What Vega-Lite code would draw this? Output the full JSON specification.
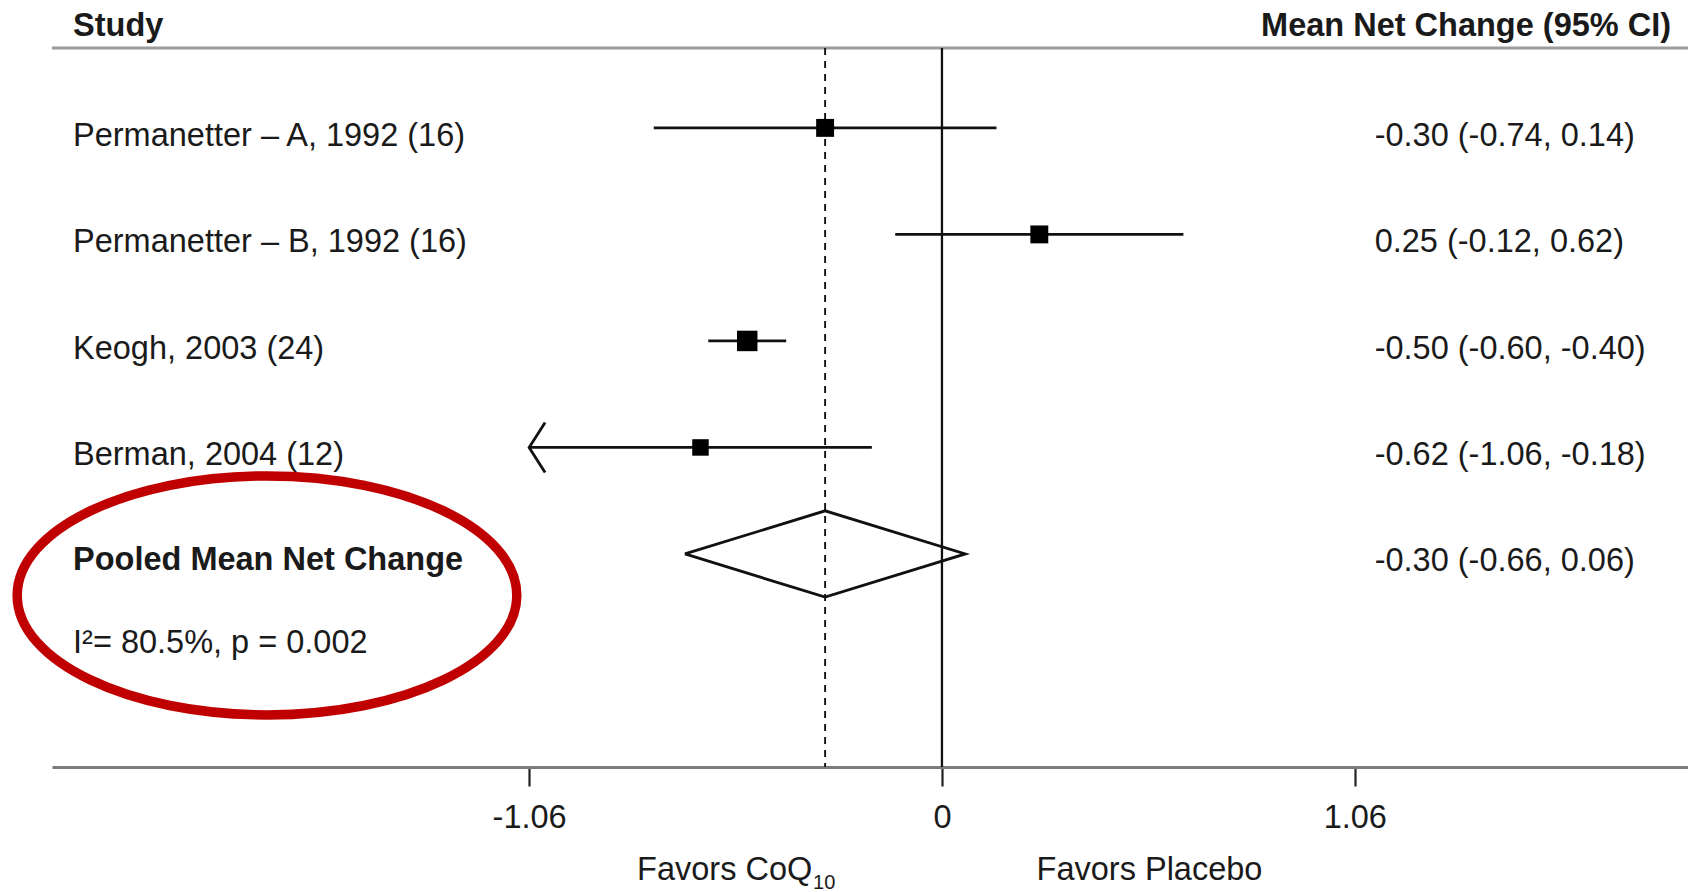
{
  "$schema": "https://vega.github.io/schema/vega-lite/v6.json",
  "autosize": {"type": "none"},
  "width": 1636,
  "height": 719,
  "padding": {"left": 52, "top": 48, "right": 0, "bottom": 125},
  "background": "white",
  "config": {
    "view": {"stroke": null},
    "text": {"font": "Liberation Sans", "fontSize": 32.5, "color": "#1a1a1a"}
  },
  "datasets": {
    "studies": [
      {"label": "Permanetter – A, 1992 (16)", "ci": "-0.30 (-0.74, 0.14)", "est": -0.30, "lo": -0.74, "hi": 0.14, "n": 16, "row": 1},
      {"label": "Permanetter – B, 1992 (16)", "ci": "0.25 (-0.12, 0.62)", "est": 0.25, "lo": -0.12, "hi": 0.62, "n": 16, "row": 2},
      {"label": "Keogh, 2003 (24)", "ci": "-0.50 (-0.60, -0.40)", "est": -0.50, "lo": -0.60, "hi": -0.40, "n": 24, "row": 3},
      {"label": "Berman, 2004 (12)", "ci": "-0.62 (-1.06, -0.18)", "est": -0.62, "lo": -1.06, "hi": -0.18, "n": 12, "row": 4}
    ],
    "pooled": [
      {"label": "Pooled Mean Net Change", "ci": "-0.30 (-0.66, 0.06)", "est": -0.30, "lo": -0.66, "hi": 0.06, "row": 5}
    ],
    "diamond": [
      {"x": -0.66, "row": 5, "o": 1},
      {"x": -0.30, "row": 4.595, "o": 2},
      {"x": 0.06, "row": 5, "o": 3},
      {"x": -0.30, "row": 5.405, "o": 4},
      {"x": -0.66, "row": 5, "o": 5}
    ]
  },
  "layer": [
    {
      "data": {"values": [{"row": 0.25}]},
      "mark": {"type": "rule", "color": "#9c9c9c", "strokeWidth": 3},
      "encoding": {
        "y": {"field": "row", "type": "quantitative", "scale": {"domain": [0.25, 7], "reverse": true, "nice": false, "zero": false}, "axis": null}
      }
    },
    {
      "data": {"values": [{"x": 0}]},
      "mark": {"type": "rule", "color": "#111111", "strokeWidth": 2.3},
      "encoding": {
        "x": {
          "field": "x", "type": "quantitative",
          "scale": {"domain": [-2.285, 1.9155], "nice": false, "zero": false},
          "axis": {
            "orient": "bottom", "values": [-1.06, 0, 1.06],
            "labelExpr": "datum.value == 0 ? '0' : (datum.value < 0 ? '-' : '') + format(abs(datum.value), '.2f')",
            "title": null, "grid": false,
            "domainColor": "#7d7d7d", "domainWidth": 3.2,
            "tickColor": "#222222", "tickWidth": 2.2, "tickSize": 19,
            "labelFont": "Liberation Sans", "labelFontSize": 32.5, "labelColor": "#1a1a1a",
            "labelPadding": 15, "labelFlush": false, "labelOverlap": false
          }
        }
      }
    },
    {
      "data": {"values": [{"x": -0.30}]},
      "mark": {"type": "rule", "color": "#111111", "strokeWidth": 1.9, "strokeDash": [7, 6]},
      "encoding": {
        "x": {"field": "x", "type": "quantitative", "scale": {"domain": [-2.285, 1.9155], "nice": false, "zero": false}}
      }
    },
    {
      "data": {"name": "studies"},
      "mark": {"type": "rule", "color": "#111111", "strokeWidth": 2.8},
      "encoding": {
        "x": {"field": "lo", "type": "quantitative", "scale": {"domain": [-2.285, 1.9155], "nice": false, "zero": false}},
        "x2": {"field": "hi"},
        "y": {"field": "row", "type": "quantitative", "scale": {"domain": [0.25, 7], "reverse": true, "nice": false, "zero": false}}
      }
    },
    {
      "data": {"name": "studies"},
      "mark": {"type": "point", "shape": "square", "filled": true, "color": "#000000", "opacity": 1},
      "encoding": {
        "x": {"field": "est", "type": "quantitative", "scale": {"domain": [-2.285, 1.9155], "nice": false, "zero": false}},
        "y": {"field": "row", "type": "quantitative", "scale": {"domain": [0.25, 7], "reverse": true, "nice": false, "zero": false}},
        "size": {"field": "n", "type": "quantitative", "scale": {"domain": [12, 24], "range": [272, 420], "zero": false}, "legend": null}
      }
    },
    {
      "data": {"name": "studies"},
      "transform": [{"filter": "datum.lo <= -1.06"}],
      "mark": {"type": "point", "shape": "M 0.64 -1 L 0 0 L 0.64 1", "filled": false, "color": "#111111", "strokeWidth": 2.8, "size": 2500, "opacity": 1},
      "encoding": {
        "x": {"field": "lo", "type": "quantitative", "scale": {"domain": [-2.285, 1.9155], "nice": false, "zero": false}},
        "y": {"field": "row", "type": "quantitative", "scale": {"domain": [0.25, 7], "reverse": true, "nice": false, "zero": false}}
      }
    },
    {
      "data": {"name": "diamond"},
      "mark": {"type": "line", "color": "#111111", "strokeWidth": 2.8, "strokeJoin": "miter"},
      "encoding": {
        "x": {"field": "x", "type": "quantitative", "scale": {"domain": [-2.285, 1.9155], "nice": false, "zero": false}},
        "y": {"field": "row", "type": "quantitative", "scale": {"domain": [0.25, 7], "reverse": true, "nice": false, "zero": false}},
        "order": {"field": "o", "type": "quantitative"}
      }
    },
    {
      "data": {"name": "studies"},
      "mark": {"type": "text", "align": "left", "baseline": "middle", "dy": 8},
      "encoding": {
        "x": {"datum": -2.231, "type": "quantitative", "scale": {"domain": [-2.285, 1.9155], "nice": false, "zero": false}},
        "y": {"field": "row", "type": "quantitative", "scale": {"domain": [0.25, 7], "reverse": true, "nice": false, "zero": false}},
        "text": {"field": "label"}
      }
    },
    {
      "data": {"name": "studies"},
      "mark": {"type": "text", "align": "left", "baseline": "middle", "dy": 8},
      "encoding": {
        "x": {"datum": 1.111, "type": "quantitative", "scale": {"domain": [-2.285, 1.9155], "nice": false, "zero": false}},
        "y": {"field": "row", "type": "quantitative", "scale": {"domain": [0.25, 7], "reverse": true, "nice": false, "zero": false}},
        "text": {"field": "ci"}
      }
    },
    {
      "data": {"name": "pooled"},
      "mark": {"type": "text", "align": "left", "baseline": "middle", "dy": 6, "fontWeight": "bold"},
      "encoding": {
        "x": {"datum": -2.231, "type": "quantitative", "scale": {"domain": [-2.285, 1.9155], "nice": false, "zero": false}},
        "y": {"field": "row", "type": "quantitative", "scale": {"domain": [0.25, 7], "reverse": true, "nice": false, "zero": false}},
        "text": {"field": "label"}
      }
    },
    {
      "data": {"name": "pooled"},
      "mark": {"type": "text", "align": "left", "baseline": "middle", "dy": 7},
      "encoding": {
        "x": {"datum": 1.111, "type": "quantitative", "scale": {"domain": [-2.285, 1.9155], "nice": false, "zero": false}},
        "y": {"field": "row", "type": "quantitative", "scale": {"domain": [0.25, 7], "reverse": true, "nice": false, "zero": false}},
        "text": {"field": "ci"}
      }
    },
    {
      "data": {"values": [{"text": "I²= 80.5%, p = 0.002", "row": 5.77}]},
      "mark": {"type": "text", "align": "left", "baseline": "middle", "dy": 7},
      "encoding": {
        "x": {"datum": -2.231, "type": "quantitative", "scale": {"domain": [-2.285, 1.9155], "nice": false, "zero": false}},
        "y": {"field": "row", "type": "quantitative", "scale": {"domain": [0.25, 7], "reverse": true, "nice": false, "zero": false}},
        "text": {"field": "text"}
      }
    },
    {
      "data": {"values": [{"text": "Study", "row": 0.04}]},
      "mark": {"type": "text", "align": "left", "baseline": "middle", "fontWeight": "bold"},
      "encoding": {
        "x": {"datum": -2.231, "type": "quantitative", "scale": {"domain": [-2.285, 1.9155], "nice": false, "zero": false}},
        "y": {"field": "row", "type": "quantitative", "scale": {"domain": [0.25, 7], "reverse": true, "nice": false, "zero": false}},
        "text": {"field": "text"}
      }
    },
    {
      "data": {"values": [{"text": "Mean Net Change (95% CI)", "row": 0.04}]},
      "mark": {"type": "text", "align": "right", "baseline": "middle", "fontWeight": "bold"},
      "encoding": {
        "x": {"datum": 1.872, "type": "quantitative", "scale": {"domain": [-2.285, 1.9155], "nice": false, "zero": false}},
        "y": {"field": "row", "type": "quantitative", "scale": {"domain": [0.25, 7], "reverse": true, "nice": false, "zero": false}},
        "text": {"field": "text"}
      }
    },
    {
      "data": {"values": [{"text": "Favors CoQ", "row": 7.9}]},
      "mark": {"type": "text", "align": "right", "baseline": "middle", "dy": 7},
      "encoding": {
        "x": {"datum": -0.333, "type": "quantitative", "scale": {"domain": [-2.285, 1.9155], "nice": false, "zero": false}},
        "y": {"field": "row", "type": "quantitative", "scale": {"domain": [0.25, 7], "reverse": true, "nice": false, "zero": false}},
        "text": {"field": "text"}
      }
    },
    {
      "data": {"values": [{"text": "10", "row": 7.9}]},
      "mark": {"type": "text", "align": "left", "baseline": "middle", "dy": 20, "fontSize": 20},
      "encoding": {
        "x": {"datum": -0.331, "type": "quantitative", "scale": {"domain": [-2.285, 1.9155], "nice": false, "zero": false}},
        "y": {"field": "row", "type": "quantitative", "scale": {"domain": [0.25, 7], "reverse": true, "nice": false, "zero": false}},
        "text": {"field": "text"}
      }
    },
    {
      "data": {"values": [{"text": "Favors Placebo", "row": 7.9}]},
      "mark": {"type": "text", "align": "left", "baseline": "middle", "dy": 7},
      "encoding": {
        "x": {"datum": 0.243, "type": "quantitative", "scale": {"domain": [-2.285, 1.9155], "nice": false, "zero": false}},
        "y": {"field": "row", "type": "quantitative", "scale": {"domain": [0.25, 7], "reverse": true, "nice": false, "zero": false}},
        "text": {"field": "text"}
      }
    },
    {
      "data": {"values": [{"x": -1.733, "row": 5.389}]},
      "mark": {"type": "point", "shape": "M -1 0 A 1 0.4784 0 1 1 1 0 A 1 0.4784 0 1 1 -1 0 Z", "filled": false, "color": "#c00000", "strokeWidth": 9.5, "size": 249600, "opacity": 1},
      "encoding": {
        "x": {"field": "x", "type": "quantitative", "scale": {"domain": [-2.285, 1.9155], "nice": false, "zero": false}},
        "y": {"field": "row", "type": "quantitative", "scale": {"domain": [0.25, 7], "reverse": true, "nice": false, "zero": false}}
      }
    }
  ]
}
